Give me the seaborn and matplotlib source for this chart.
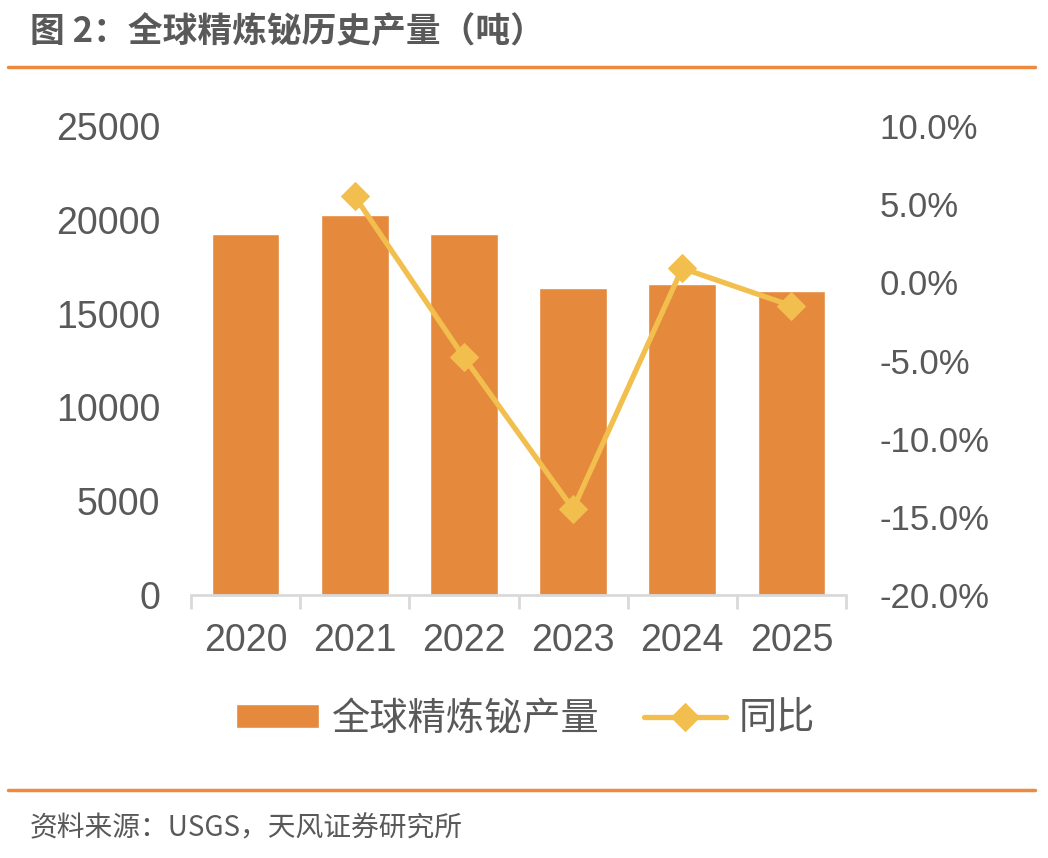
import numpy as np
import pandas as pd
import matplotlib
matplotlib.use("Agg")
import matplotlib.pyplot as plt
import seaborn as sns
from matplotlib.ticker import FuncFormatter, FixedLocator

years = ["2020", "2021", "2022", "2023", "2024", "2025"]
production = [19250, 20250, 19250, 16380, 16560, 16220]
yoy = [np.nan, 5.5, -4.8, -14.5, 0.9, -1.5]

bar_name = "全球精炼铋产量"
line_name = "同比"
title = "图 2：全球精炼铋历史产量（吨）"
source = "资料来源：USGS，天风证券研究所"

BAR_C = "#E5893C"
LINE_C = "#F2BE4E"
TXT_C = "#595959"
RULE_C = "#ED8A3F"

sns.set_theme(style="white")
plt.rcParams['font.family'] = ['Liberation Sans', 'Noto Sans CJK SC', 'DejaVu Sans']
CJK = ['Noto Sans CJK SC', 'DejaVu Sans']

df = pd.DataFrame({"year": years, "production": production, "yoy": yoy})

fig = plt.figure(figsize=(10.48, 8.58), dpi=100)
ax = fig.add_axes([191/1048, 1-595/858, (846-191)/1048, (595-126)/858])

sns.barplot(data=df, x="year", y="production", color=BAR_C, width=0.62,
            saturation=1, ax=ax, label=bar_name)
ax.set_ylim(0, 25000)
ax.set_xlim(-0.5, 5.5)
ax.set_yticks(np.arange(0, 25001, 5000))
ax.set_xlabel("")
ax.set_ylabel("")
for s in ["top", "left", "right"]:
    ax.spines[s].set_visible(False)
ax.spines["bottom"].set_color("#D9D9D9")
ax.spines["bottom"].set_linewidth(2)
ax.tick_params(axis="y", length=0, labelsize=27, labelcolor=TXT_C, pad=22)
ax.tick_params(axis="x", which="major", length=0, labelsize=27, labelcolor=TXT_C, pad=20)
ax.xaxis.set_minor_locator(FixedLocator(np.arange(-0.5, 6, 1)))
ax.tick_params(axis="x", which="minor", bottom=True, length=10, width=2,
               color="#D9D9D9", direction="out")

ax2 = ax.twinx()
sns.lineplot(x=np.arange(len(years)), y=df["yoy"], ax=ax2, color=LINE_C, linewidth=3.8,
             marker="D", markersize=14, markeredgecolor=LINE_C, label=line_name, legend=False)
ax2.set_ylim(-20, 10)
ax2.set_yticks(np.arange(-20, 10.1, 5))
ax2.yaxis.set_major_formatter(FuncFormatter(lambda v, p: f"{v:.1f}%"))
ax2.set_ylabel("")
for s in ["top", "left", "right", "bottom"]:
    ax2.spines[s].set_visible(False)
ax2.tick_params(axis="y", length=0, labelsize=25, labelcolor=TXT_C, pad=24)
ax2.set_xlim(-0.5, 5.5)

h1, l1 = ax.get_legend_handles_labels()
h2, l2 = ax2.get_legend_handles_labels()
if ax.get_legend() is not None:
    ax.get_legend().remove()
leg = fig.legend(h1 + h2, l1 + l2, loc="center", bbox_to_anchor=(526/1048, 1-719/858),
                 ncol=2, frameon=False, prop={'family': CJK, 'size': 27.5},
                 handlelength=2.15, handleheight=0.6, columnspacing=1.15, handletextpad=0.35)
for t in leg.get_texts():
    t.set_color(TXT_C)

fig.text(30/1048, 1-32/858, title, fontsize=25, fontweight="bold", color=TXT_C,
         family=CJK, va="center", ha="left")
fig.add_artist(plt.Line2D([8/1048, 1035/1048], [1-67/858, 1-67/858], color=RULE_C, lw=2.5))
fig.add_artist(plt.Line2D([8/1048, 1035/1048], [1-790/858, 1-790/858], color=RULE_C, lw=2.5))
fig.text(30/1048, 1-828/858, source, fontsize=20, color=TXT_C, family=CJK,
         va="center", ha="left")

fig.savefig("out.png", dpi=100, facecolor="white")
